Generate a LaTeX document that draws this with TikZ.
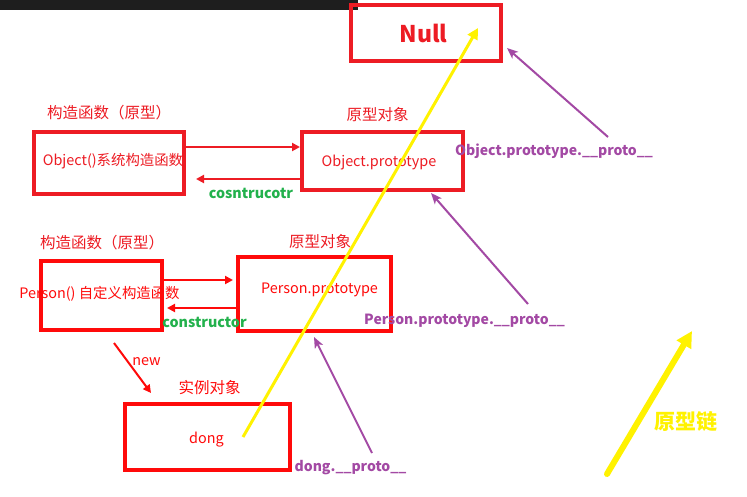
\documentclass[tikz,border=0pt]{standalone}
\usepackage{fontspec}
\setmainfont{Noto Sans CJK SC}
\usetikzlibrary{arrows.meta}
\definecolor{pred}{HTML}{ED1C24}
\definecolor{pred2}{HTML}{FF0A0A}
\definecolor{pgreen}{HTML}{22B14C}
\definecolor{ppurple}{HTML}{A349A4}
\definecolor{pyellow}{HTML}{FFF200}
\definecolor{pbar}{HTML}{1E1E1E}
\begin{document}
\begin{tikzpicture}[x=1pt,y=-1pt,
  box/.style={draw=pred,line width=4pt,inner sep=0pt},
  txt/.style={inner sep=0pt,text depth=0pt},
  lbl/.style={txt,text=pred,text height=11.6pt,font=\fontsize{15.5}{18}\selectfont},
  intext/.style={txt,text=pred,text height=10.7pt,font=\fontsize{14.4}{16}\selectfont},
  gtext/.style={txt,text=pgreen,text height=10.6pt,font=\bfseries\fontsize{14.3}{16}\selectfont},
  ptext/.style={txt,text=ppurple,text height=10.4pt,font=\bfseries\fontsize{14}{16}\selectfont},
  rarrow/.style={draw=pred,line width=2pt,-{Triangle[length=8pt,width=8pt]}},
  parrow/.style={draw=ppurple,line width=2pt,-{Stealth[length=11pt,width=9pt,inset=3pt]}},
  yarrow/.style={draw=pyellow,line width=3pt,-{Triangle[length=11pt,width=11pt]}},
  bigyarrow/.style={draw=pyellow,line width=6pt,line cap=round,-{Triangle[length=16pt,width=16pt]}}
]
\useasboundingbox[fill=white] (0,0) rectangle (747,496);
\fill[pbar] (0,0) rectangle (358,10);

% boxes
\node[box,minimum width=150pt,minimum height=56pt] (null) at (426,33) {};
\node[box,minimum width=150pt,minimum height=62pt] (objf) at (109,163) {};
\node[box,minimum width=161pt,minimum height=58pt] (objp) at (382.5,161) {};
\node[box,draw=pred2,minimum width=121pt,minimum height=69pt] (perf) at (101.5,295.5) {};
\node[box,draw=pred2,minimum width=153pt,minimum height=74pt] (perp) at (314.5,294) {};
\node[box,draw=pred2,minimum width=165pt,minimum height=66pt] (dong) at (207.5,437) {};

% texts
\node[txt,text=pred,text height=17pt,font=\bfseries\fontsize{23}{26}\selectfont] (nulltxt) at (423.5,33.5) {Null};
\node[lbl] (l1) at (109,113) {构造函数（原型）};
\node[lbl] (l2) at (377.5,115) {原型对象};
\node[lbl] (l3) at (102,243) {构造函数（原型）};
\node[lbl] (l4) at (320,242) {原型对象};
\node[lbl,text=pred2] (l5) at (209.5,388) {实例对象};
\node[intext] (t1) at (113,160) {Object()系统构造函数};
\node[intext] (t2) at (379,161) {Object.prototype};
\node[intext,text=pred2] (t3) at (99.5,293) {Person() 自定义构造函数};
\node[intext,text=pred2] (t4) at (319.5,288) {Person.prototype};
\node[intext,text=pred2] (t5) at (206.5,438) {dong};
\node[intext,text=pred2] (t6) at (146.5,360) {new};
\node[gtext] (g1) at (251,193) {cosntrucotr};
\node[gtext] (g2) at (204.5,322) {constructor};
\node[ptext] (p1) at (554,150) {Object.prototype.\_\_proto\_\_};
\node[ptext] (p2) at (464.5,319) {Person.prototype.\_\_proto\_\_};
\node[ptext] (p3) at (350.5,466) {dong.\_\_proto\_\_};
\node[txt,text=pyellow,text height=16pt,font=\bfseries\fontsize{21}{24}\selectfont] (chain) at (685.5,421) {原型链};

% helper coordinates
\coordinate (y147) at (0,147);
\coordinate (y179) at (0,179);
\coordinate (y280) at (0,280);
\coordinate (y308) at (0,308);
\coordinate (news) at (114,343);
\coordinate (newe) at (151,393);
\coordinate (ys) at (243,437);
\coordinate (ye) at (478,28);
\coordinate (a1s) at (608,137);
\coordinate (a1e) at (507,48);
\coordinate (a2s) at (528,304);
\coordinate (a2e) at (431,193);
\coordinate (a3s) at (372,453);
\coordinate (a3e) at (314,337);
\coordinate (bys) at (607,474);
\coordinate (bye) at (692,331);

% red arrows
\draw[rarrow] (objf.east |- y147) -- (objp.west |- y147);
\draw[rarrow,shorten >=10pt] (objp.west |- y179) -- (objf.east |- y179);
\draw[rarrow,draw=pred2,shorten >=3pt] (perf.east |- y280) -- (perp.west |- y280);
\draw[rarrow,draw=pred2,shorten >=3pt] (perp.west |- y308) -- (perf.east |- y308);
\draw[rarrow,draw=pred2] (news) -- (newe);

% purple arrows
\draw[parrow] (a1s) -- (a1e);
\draw[parrow] (a2s) -- (a2e);
\draw[parrow] (a3s) -- (a3e);

% yellow
\draw[yarrow] (ys) -- (ye);
\draw[bigyarrow] (bys) -- (bye);
\end{tikzpicture}
\end{document}
